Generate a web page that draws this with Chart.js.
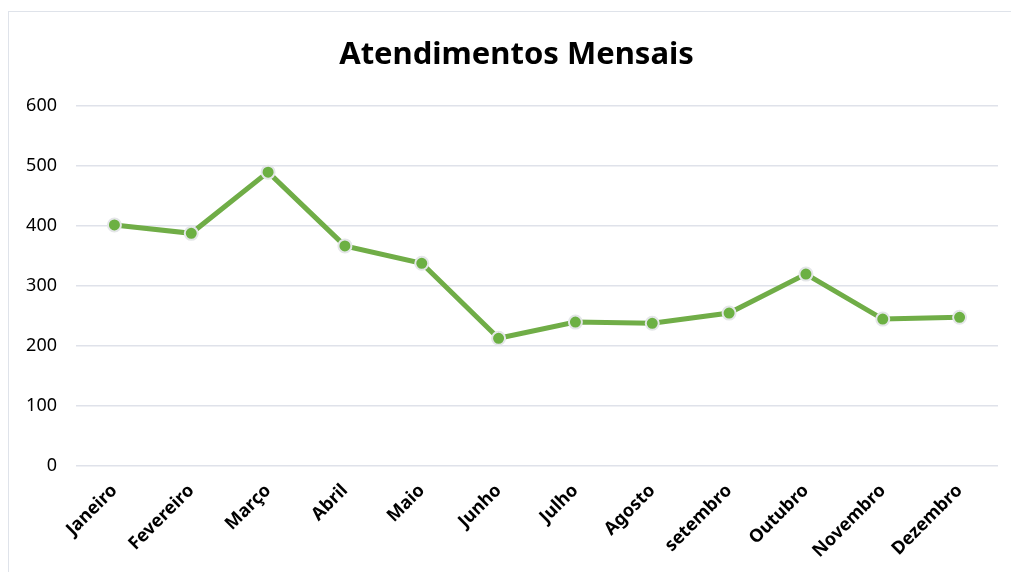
<!DOCTYPE html>
<html>
<head>
<meta charset="utf-8">
<script src="https://cdn.jsdelivr.net/npm/chart.js@4"></script>
<style>
  html, body { margin: 0; padding: 0; background: #fff; }
  #box {
    position: absolute;
    left: 8px;
    top: 11px;
    width: 1003px;
    height: 561px;
    border-left: 1px solid #dfe3ea;
    border-top: 1px solid #dfe3ea;
    box-sizing: border-box;
  }
</style>
</head>
<body>
<div id="box"><canvas id="chart"></canvas></div>
<script>
const months = ["Janeiro", "Fevereiro", "Março", "Abril", "Maio", "Junho",
  "Julho", "Agosto", "setembro", "Outubro", "Novembro", "Dezembro"];
const atendimentos = [402, 388, 490, 367, 338, 213, 240, 238, 255, 320, 245, 248];

const FONT = "'Noto Sans', 'Open Sans', sans-serif";

// The original title sits a little right of the canvas centre.
const nudgeTitle = {
  id: "nudgeTitle",
  afterLayout(chart) {
    if (chart.titleBlock) chart.titleBlock.left += 26;
  },
};

new Chart(document.getElementById("chart"), {
  type: "line",
  data: {
    labels: months,
    datasets: [
      {
        label: "Atendimentos",
        data: atendimentos,
        borderColor: "#70ad47",
        backgroundColor: "#70ad47",
        borderWidth: 5,
        pointRadius: 6.5,
        pointBorderWidth: 2,
        pointBorderColor: "#e4e6e8",
        pointBackgroundColor: "#6cb043",
        tension: 0,
      },
    ],
  },
  options: {
    responsive: true,
    maintainAspectRatio: false,
    animation: false,
    layout: { padding: { left: 0, right: 13, top: 0, bottom: 0 } },
    scales: {
      x: {
        offset: true,
        grid: { display: false, drawTicks: false },
        border: { display: false },
        ticks: {
          minRotation: 45,
          maxRotation: 45,
          autoSkip: false,
          padding: 14,
          color: "#000",
          font: { family: FONT, size: 18, weight: "bold" },
        },
        afterFit: (axis) => { axis.height = 106; },
      },
      y: {
        min: 0,
        max: 600,
        ticks: {
          stepSize: 100,
          padding: 19,
          color: "#000",
          font: { family: FONT, size: 18 },
        },
        grid: { color: "#dfe2ea", lineWidth: 1.5, drawTicks: false },
        border: { display: false },
        afterFit: (axis) => { axis.width = 67; },
      },
    },
    plugins: {
      legend: { display: false },
      tooltip: { enabled: false },
      title: {
        display: true,
        text: "Atendimentos Mensais",
        color: "#000",
        font: { family: FONT, size: 31, weight: "bold" },
        padding: { top: 25, bottom: 32 },
      },
    },
  },
  plugins: [nudgeTitle],
});
</script>
</body>
</html>
